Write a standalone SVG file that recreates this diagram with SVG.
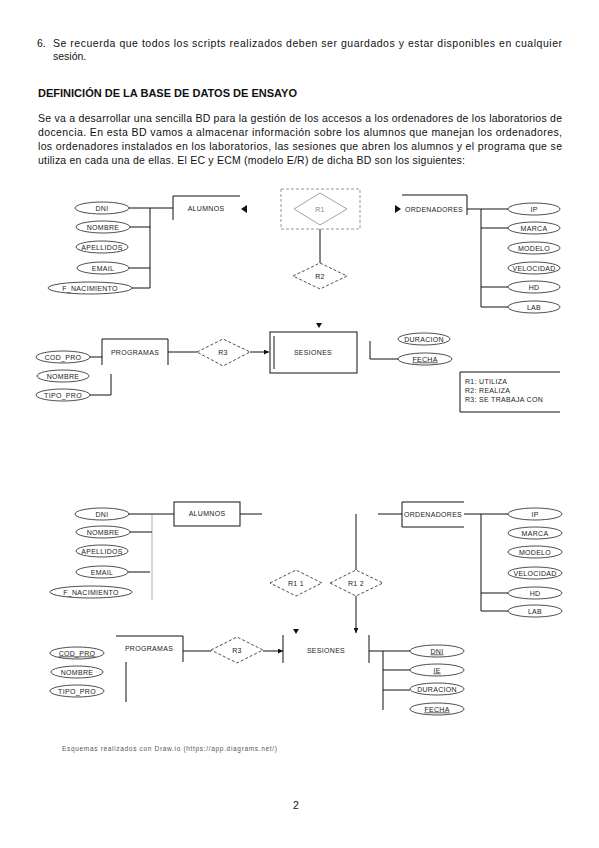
<svg xmlns="http://www.w3.org/2000/svg" width="599" height="848" viewBox="0 0 599 848">
<defs>
<style>
.t{font-family:"Liberation Sans",Arial,sans-serif;font-size:10.5px;fill:#111}
.h{font-family:"Liberation Sans",Arial,sans-serif;font-size:10.5px;font-weight:bold;fill:#111}
.d{font-family:"Liberation Sans",Arial,sans-serif;font-size:7px;fill:#222;text-anchor:middle;letter-spacing:0.3px}
.lg{font-family:"Liberation Sans",Arial,sans-serif;font-size:7px;fill:#222;letter-spacing:0.3px}
.f{font-family:"Liberation Sans",Arial,sans-serif;font-size:6.5px;fill:#555}
.ln{stroke:#111;stroke-width:1;fill:none}
.gl{stroke:#999;stroke-width:0.8;fill:none}
.el{stroke:#222;stroke-width:0.8;fill:#fff}
.dm{stroke:#222;stroke-width:0.8;fill:#fff;stroke-dasharray:3,2}
.gd{stroke:#999;stroke-width:0.9;fill:#fff}
.gr{stroke:#999;stroke-width:1;fill:none;stroke-dasharray:3,2}
.u{text-decoration:underline}
</style>
<marker id="ar" viewBox="0 0 6 6" refX="6" refY="3" markerWidth="5" markerHeight="5" orient="auto" markerUnits="userSpaceOnUse">
<path d="M0,0 L6,3 L0,6 z" fill="#111"/>
</marker>
</defs>
<rect width="599" height="848" fill="#fff"/>

<!-- page text -->
<g id="text">
<text class="t" x="37" y="47">6.</text>
<text class="t" x="53" y="47" textLength="509" lengthAdjust="spacing">Se recuerda que todos los scripts realizados deben ser guardados y estar disponibles en cualquier</text>
<text class="t" x="53" y="60">sesión.</text>
<text class="h" x="38" y="97" textLength="259" lengthAdjust="spacingAndGlyphs">DEFINICIÓN DE LA BASE DE DATOS DE ENSAYO</text>
<text class="t" x="38" y="122" textLength="524" lengthAdjust="spacing">Se va a desarrollar una sencilla BD para la gestión de los accesos a los ordenadores de los laboratorios de</text>
<text class="t" x="38" y="136" textLength="524" lengthAdjust="spacing">docencia. En esta BD vamos a almacenar información sobre los alumnos que manejan los ordenadores,</text>
<text class="t" x="38" y="150" textLength="524" lengthAdjust="spacing">los ordenadores instalados en los laboratorios, las sesiones que abren los alumnos y el programa que se</text>
<text class="t" x="38" y="164" textLength="427" lengthAdjust="spacing">utiliza en cada una de ellas. El EC y ECM (modelo E/R) de dicha BD son los siguientes:</text>
</g>

<!-- ===== Diagram 1 connectors ===== -->
<g id="connectors1">
<path class="ln" d="M129,208 H173 M130,227 H150 M129,268 H150 M132,288 H150 M150,208 V288"/>
<path class="ln" d="M173,220 V196 H240"/>
<path class="ln" d="M320,229 V263"/>
<path class="ln" d="M402,195 H467 V215"/>
<path class="ln" d="M467,209 H508 M481,209 V307 M481,228 H508 M481,287 H508 M481,307 H508"/>
<path class="ln" d="M90,357 H102 M111,374 V395 H90"/>
<path class="ln" d="M102,365 V339 H168 V365"/>
<path class="ln" d="M168,352 H197"/>
<path class="ln" d="M250,352 H269" marker-end="url(#ar)"/>
<path class="ln" d="M370,341 V359 H399"/>
<path d="M247,205 L241,209 L247,213 z" fill="#111"/>
<path d="M395,205 L401,209 L395,213 z" fill="#111"/>
<path d="M316,323 L322,323 L319,328 z" fill="#111"/>
</g>

<g id="alumnos1"><text class="d" x="206" y="211">ALUMNOS</text></g>
<g id="dni1"><ellipse class="el" cx="102" cy="208" rx="27" ry="6"/><text class="d" x="102" y="210.5">DNI</text></g>
<g id="nombre1"><ellipse class="el" cx="103" cy="227" rx="27" ry="6"/><text class="d" x="103" y="229.5">NOMBRE</text></g>
<g id="apellidos1"><ellipse class="el" cx="102" cy="247" rx="26" ry="6"/><text class="d" x="102" y="249.5">APELLIDOS</text></g>
<g id="email1"><ellipse class="el" cx="103" cy="268" rx="26" ry="6"/><text class="d" x="103" y="270.5">EMAIL</text></g>
<g id="fnac1"><ellipse class="el" cx="90" cy="288" rx="42" ry="6"/><text class="d" x="90" y="290.5">F_NACIMIENTO</text></g>

<g id="r1"><rect class="gr" x="281" y="189" width="79" height="40"/><path class="gd" d="M294,209 L320,193 L347,209 L320,225 z"/><text class="d" x="320" y="211.5" style="fill:#888">R1</text></g>
<g id="r2"><path class="dm" d="M293,276 L320,263 L347,276 L320,289 z"/><text class="d" x="320" y="278.5">R2</text></g>

<g id="ordenadores1"><text class="d" x="434" y="211.5">ORDENADORES</text></g>
<g id="ip1"><ellipse class="el" cx="534" cy="209" rx="26" ry="6"/><text class="d" x="534" y="211.5">IP</text></g>
<g id="marca1"><ellipse class="el" cx="534" cy="228" rx="26" ry="6"/><text class="d" x="534" y="230.5">MARCA</text></g>
<g id="modelo1"><ellipse class="el" cx="534" cy="248" rx="26" ry="6"/><text class="d" x="534" y="250.5">MODELO</text></g>
<g id="velocidad1"><ellipse class="el" cx="534" cy="268" rx="26" ry="6"/><text class="d" x="534" y="270.5">VELOCIDAD</text></g>
<g id="hd1"><ellipse class="el" cx="534" cy="287" rx="26" ry="6"/><text class="d" x="534" y="289.5">HD</text></g>
<g id="lab1"><ellipse class="el" cx="534" cy="307" rx="26" ry="6"/><text class="d" x="534" y="309.5">LAB</text></g>

<g id="programas1"><text class="d" x="135" y="355">PROGRAMAS</text></g>
<g id="codpro1"><ellipse class="el" cx="63" cy="357" rx="27" ry="6"/><text class="d" x="63" y="359.5">COD_PRO</text></g>
<g id="nombrep1"><ellipse class="el" cx="63" cy="376" rx="26" ry="6"/><text class="d" x="63" y="378.5">NOMBRE</text></g>
<g id="tipopro1"><ellipse class="el" cx="63" cy="395" rx="27" ry="6"/><text class="d" x="63" y="397.5">TIPO_PRO</text></g>
<g id="r3a"><path class="dm" d="M197,352 L223,339 L250,352 L223,366 z"/><text class="d" x="223" y="354.5">R3</text></g>
<g id="sesiones1"><rect class="ln" x="270" y="332" width="87" height="41"/><path class="ln" d="M274,336 V369"/><text class="d" x="313" y="355">SESIONES</text></g>
<g id="duracion1"><ellipse class="el" cx="424" cy="339" rx="26" ry="6"/><text class="d" x="424" y="341.5">DURACION</text></g>
<g id="fecha1"><ellipse class="el" cx="425" cy="359" rx="27" ry="6"/><text class="d u" x="425" y="361.5">FECHA</text></g>

<g id="legend"><path class="ln" d="M560,372 H460 V412 H560"/>
<text class="lg" x="465" y="384">R1: UTILIZA</text>
<text class="lg" x="465" y="393">R2: REALIZA</text>
<text class="lg" x="465" y="402">R3: SE  TRABAJA  CON</text></g>

<!-- ===== Diagram 2 ===== -->
<g id="connectors2">
<path class="gl" d="M152,514 V600"/>
<path class="ln" d="M128,514 H174 M130,532 H152 M128,572 H150"/>
<path class="ln" d="M240,514 H262 M378,514 H402"/>
<path class="ln" d="M356,514 V570"/>
<path class="ln" d="M356,596 V633" marker-end="url(#ar)"/>
<path class="ln" d="M464,514 H508 M481,514 V611 M481,593 H508 M481,611 H508"/>
<path class="ln" d="M116,636 H183 V662 M126,662 V702"/>
<path class="ln" d="M183,651 H211"/>
<path class="ln" d="M263,651 H283" marker-end="url(#ar)"/>
<path class="ln" d="M369,651 H410 M383,651 V710 M383,670 H410 M383,690 H410"/>
<path d="M293,629 L299,629 L296,634 z" fill="#111"/>
</g>

<g id="alumnos2"><rect class="ln" x="174" y="502" width="66" height="24"/><text class="d" x="207" y="516">ALUMNOS</text></g>
<g id="dni2"><ellipse class="el" cx="102" cy="514" rx="27" ry="6"/><text class="d" x="102" y="516.5">DNI</text></g>
<g id="nombre2"><ellipse class="el" cx="103" cy="532" rx="27" ry="6"/><text class="d" x="103" y="534.5">NOMBRE</text></g>
<g id="apellidos2"><ellipse class="el" cx="102" cy="551" rx="26" ry="6"/><text class="d" x="102" y="553.5">APELLIDOS</text></g>
<g id="email2"><ellipse class="el" cx="102" cy="572" rx="26" ry="6"/><text class="d" x="102" y="574.5">EMAIL</text></g>
<g id="fnac2"><ellipse class="el" cx="91" cy="592" rx="41" ry="6"/><text class="d" x="91" y="594.5">F_NACIMIENTO</text></g>

<g id="r11"><path class="dm" d="M270,583 L296,570 L322,583 L296,596 z"/><text class="d" x="296" y="585.5">R1 1</text></g>
<g id="r12"><path class="dm" d="M330,583 L356,570 L383,583 L356,596 z"/><text class="d" x="356" y="585.5">R1 2</text></g>

<g id="ordenadores2"><path class="ln" d="M464,502 H402 V527 H464"/><text class="d" x="433" y="516.5">ORDENADORES</text></g>
<g id="ip2"><ellipse class="el" cx="535" cy="514" rx="27" ry="6"/><text class="d" x="535" y="516.5">IP</text></g>
<g id="marca2"><ellipse class="el" cx="535" cy="533" rx="27" ry="6"/><text class="d" x="535" y="535.5">MARCA</text></g>
<g id="modelo2"><ellipse class="el" cx="535" cy="552" rx="27" ry="6"/><text class="d" x="535" y="554.5">MODELO</text></g>
<g id="velocidad2"><ellipse class="el" cx="535" cy="573" rx="27" ry="6"/><text class="d" x="535" y="575.5">VELOCIDAD</text></g>
<g id="hd2"><ellipse class="el" cx="535" cy="593" rx="27" ry="6"/><text class="d" x="535" y="595.5">HD</text></g>
<g id="lab2"><ellipse class="el" cx="535" cy="611" rx="27" ry="6"/><text class="d" x="535" y="613.5">LAB</text></g>

<g id="programas2"><text class="d" x="149" y="651">PROGRAMAS</text></g>
<g id="codpro2"><ellipse class="el" cx="77" cy="653" rx="27" ry="6"/><text class="d u" x="77" y="655.5">COD_PRO</text></g>
<g id="nombrep2"><ellipse class="el" cx="77" cy="672" rx="26" ry="6"/><text class="d" x="77" y="674.5">NOMBRE</text></g>
<g id="tipopro2"><ellipse class="el" cx="77" cy="691" rx="27" ry="6"/><text class="d" x="77" y="693.5">TIPO_PRO</text></g>
<g id="r3b"><path class="dm" d="M211,650 L237,637 L263,650 L237,663 z"/><text class="d" x="237" y="652.5">R3</text></g>
<g id="sesiones2"><path class="ln" d="M283,635 V663 M369,635 V663"/><text class="d" x="326" y="653">SESIONES</text></g>
<g id="dni3"><ellipse class="el" cx="437" cy="651" rx="27" ry="6"/><text class="d u" x="437" y="653.5">DNI</text></g>
<g id="ie3"><ellipse class="el" cx="437" cy="670" rx="27" ry="6"/><text class="d u" x="437" y="672.5">IE</text></g>
<g id="duracion3"><ellipse class="el" cx="437" cy="689" rx="27" ry="6"/><text class="d" x="437" y="691.5">DURACION</text></g>
<g id="fecha3"><ellipse class="el" cx="437" cy="709" rx="27" ry="6"/><text class="d u" x="437" y="711.5">FECHA</text></g>

<g id="footer">
<text class="f" x="62" y="751" textLength="215" lengthAdjust="spacing">Esquemas realizados con Draw.io (https://app.diagrams.net/)</text>
<text class="t" x="293" y="809">2</text>
</g>
</svg>
